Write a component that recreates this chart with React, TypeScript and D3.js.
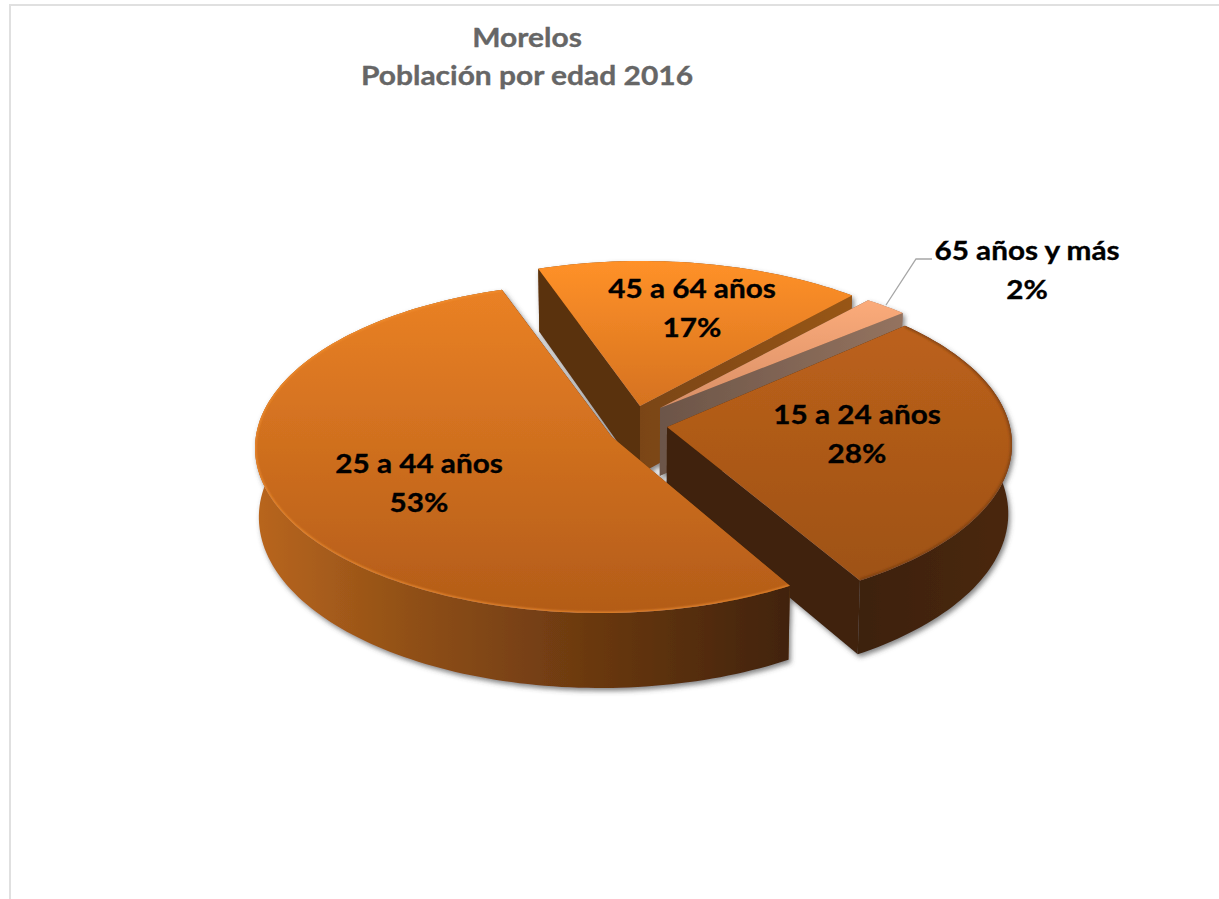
import React from "react";
import * as d3 from "d3";

const categories = ["15 a 24 años", "25 a 44 años", "45 a 64 años", "65 años y más"];
const shares = [28, 53, 17, 2];
const titleLines = ["Morelos", "Población por edad 2016"];

const W = 1219, H = 899;
const deg = Math.PI / 180;
const FIRST_ANGLE = 49.2 * deg;
const AXIS_X = 640, BOTTOM_X = 0.99;
const depthAt = d3.scaleLinear().domain([268, 613]).range([63, 75]);

// layout of each exploded slice, in the drawing's own pixels
const apex: [number, number][] = [[667, 427], [612, 437], [640, 406], [660, 408]];
const rimCenter: [number, number][] = [[667, 444.5], [600, 448], [642, 428], [660, 419]];
const rimRadius: [number, number][] = [[345, 164], [345, 165], [345, 167], [345, 149]];
const angleAdjust: [number, number][] = [[-5.6, -4], [-3.4, 2.7], [1.7, -4.5], [-4.9, -4.5]];
const labelPos: [number, number][] = [[857, 424], [419, 473], [692, 298], [1027, 260]];

const topGrad = [
  ["#BC611B", "#9E5215"],
  ["#EA8125", "#B35C18"],
  ["#FF9129", "#D5721F"],
  ["#FBAB7A", "#D98F66"],
];

type P = [number, number];
const toBottom = ([x, y]: P): P => [AXIS_X + (x - AXIS_X) * BOTTOM_X, y + depthAt(y)];

const arcs = d3.pie<number>().sort(null).startAngle(FIRST_ANGLE).endAngle(FIRST_ANGLE + 2 * Math.PI)(shares);
const line = d3.line<P>();
const close = (pts: P[]) => (line(pts) as string) + "Z";

const sliceGeom = arcs.map((a, i) => {
  const t0 = a.startAngle + angleAdjust[i][0] * deg;
  const t1 = a.endAngle + angleAdjust[i][1] * deg;
  const n = Math.max(4, Math.ceil((t1 - t0) * 40));
  const rimT = d3.range(n + 1).map((k): P => {
    const t = t0 + ((t1 - t0) * k) / n;
    return [rimCenter[i][0] + rimRadius[i][0] * Math.sin(t), rimCenter[i][1] - rimRadius[i][1] * Math.cos(t)];
  });
  const rimB = rimT.map(toBottom);
  const apexT = apex[i];
  const apexB = toBottom(apexT);
  return {
    top: close([apexT, ...rimT]),
    rim: line(rimT) as string,
    outer: close([...rimT, ...[...rimB].reverse()]),
    wallStart: close([apexT, rimT[0], rimB[0], apexB]),
    wallEnd: close([apexT, rimT[n], rimB[n], apexB]),
  };
});

// painting order, back to front
const order = [2, 3, 0, 1];
// slices whose rim faces away from the viewer: the rim wall goes under the cut walls
const rimAtBack = [false, false, true, true];
// [outer wall, start-edge wall, end-edge wall]
const wallFill = [
  ["url(#wallB)", "#43240A", "#3F2208"],
  ["url(#wallA)", "#7A4512", "#42240A"],
  ["#7A4512", "#5A330E", "url(#wallC)"],
  ["#8E6E5C", "#6E5447", "url(#wallD)"],
];
const rimStroke = ["#6A3810", "#F59334", "#FF9129", "#FBAB7A"];
const rimWidth = [3.5, 2, 1, 1];
const rimOpacity = [0.6, 0.9, 0.5, 0.5];

const Txt = ({ x, y, children, sx }: { x: number; y: number; children: string; sx: number }) => (
  <text transform={`translate(${x},${y}) scale(${sx},1)`}>{children}</text>
);

export default function App() {
  return (
    <svg width={W} height={H} viewBox={`0 0 ${W} ${H}`} style={{ position: "absolute", left: 0, top: 0, display: "block" }}>
      <defs>
        {topGrad.map((g, i) => (
          <linearGradient key={i} id={`top${i}`} x1="0" y1="0" x2="0" y2="1">
            <stop offset="0" stopColor={g[0]} />
            <stop offset="1" stopColor={g[1]} />
          </linearGradient>
        ))}
        <linearGradient id="wallA" x1="0" y1="0" x2="1" y2="0">
          <stop offset="0" stopColor="#B9661E" />
          <stop offset="0.3" stopColor="#8F4F16" />
          <stop offset="0.65" stopColor="#683710" />
          <stop offset="1" stopColor="#41230A" />
        </linearGradient>
        <linearGradient id="wallB" x1="0" y1="0" x2="1" y2="0">
          <stop offset="0" stopColor="#3D2108" />
          <stop offset="1" stopColor="#4A280B" />
        </linearGradient>
        <linearGradient id="wallC" x1="0" y1="0" x2="1" y2="0">
          <stop offset="0" stopColor="#7A4512" />
          <stop offset="1" stopColor="#985617" />
        </linearGradient>
        <linearGradient id="wallD" x1="0" y1="0" x2="1" y2="0">
          <stop offset="0" stopColor="#6C5548" />
          <stop offset="1" stopColor="#94735F" />
        </linearGradient>
        <filter id="shadow" x="-10%" y="-10%" width="120%" height="125%">
          <feDropShadow dx="2" dy="3" stdDeviation="2.5" floodColor="#444" floodOpacity="0.65" />
        </filter>
        <filter id="soft" x="-10%" y="-10%" width="120%" height="120%">
          <feGaussianBlur stdDeviation="1.2" />
        </filter>
        {sliceGeom.map((g, i) => (
          <clipPath key={i} id={`clip${i}`}>
            <path d={g.top} />
          </clipPath>
        ))}
      </defs>
      <rect width={W} height={H} fill="#fff" />
      <path d={`M10 ${H}V5H${W}`} fill="none" stroke="#e0e0e0" strokeWidth={2} />
      <g fontFamily="Lato, sans-serif" fontWeight={700} fontSize={27.5} fill="#666" stroke="#666" strokeWidth={0.35} textAnchor="middle">
        {titleLines.map((t, i) => (
          <Txt key={t} x={527} y={47 + i * 38} sx={1.09}>{t}</Txt>
        ))}
      </g>
      <g filter="url(#shadow)">
        {order.map((i) => {
          const g = sliceGeom[i];
          return (
            <g key={i}>
              {rimAtBack[i] && <path d={g.outer} fill={wallFill[i][0]} />}
              <path d={g.wallStart} fill={wallFill[i][1]} />
              <path d={g.wallEnd} fill={wallFill[i][2]} />
              {!rimAtBack[i] && <path d={g.outer} fill={wallFill[i][0]} />}
              <path d={g.top} fill={`url(#top${i})`} />
              <g clipPath={`url(#clip${i})`}>
                <path d={g.rim} fill="none" stroke={rimStroke[i]} strokeWidth={rimWidth[i]} strokeOpacity={rimOpacity[i]} filter="url(#soft)" />
              </g>
            </g>
          );
        })}
      </g>
      <path d={d3.line()([[886, 305], [916, 259], [932, 259]]) as string} fill="none" stroke="#A6A6A6" strokeWidth={1.3} />
      <g fontFamily="Lato, sans-serif" fontWeight={700} fontSize={27.5} fill="#000" stroke="#000" strokeWidth={0.35} textAnchor="middle">
        {categories.map((c, i) => (
          <g key={c}>
            <Txt x={labelPos[i][0]} y={labelPos[i][1]} sx={1.08}>{c}</Txt>
            <Txt x={labelPos[i][0]} y={labelPos[i][1] + 39} sx={1.08}>{`${shares[i]}%`}</Txt>
          </g>
        ))}
      </g>
    </svg>
  );
}
